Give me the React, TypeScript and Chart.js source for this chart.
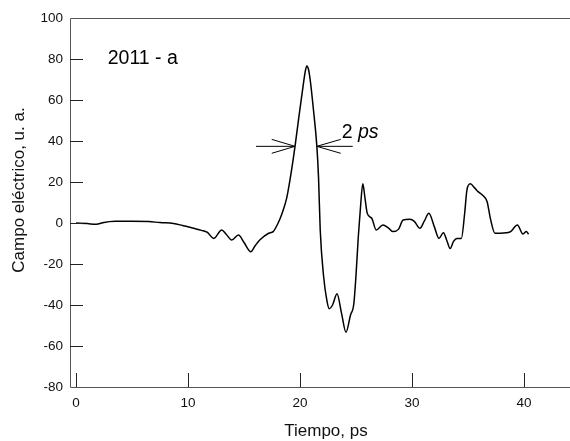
import React, { useEffect, useRef } from "react";
import { Chart, registerables } from "chart.js";

Chart.register(...registerables);

// Pulse trace: time (ps) and electric field (a.u.)
const timePs = [0, 1, 1.8, 2.5, 3.5, 5, 6.5, 7.5, 8.7, 9.5, 10.5, 11.2, 11.7, 12.3, 13.0, 13.4, 13.9, 14.5, 15.0, 15.6, 16.0, 16.4, 17.2, 17.6, 18.0, 18.4, 18.8, 19.1, 19.55, 19.9, 20.3, 20.45, 20.6, 20.75, 20.9, 21.2, 21.5, 21.65, 21.8, 22.1, 22.4, 22.6, 22.9, 23.3, 23.7, 24.1, 24.5, 24.8, 25.0, 25.2, 25.4, 25.6, 25.8, 26.0, 26.4, 26.8, 27.4, 27.9, 28.3, 28.8, 29.2, 29.8, 30.2, 30.7, 31.1, 31.5, 32.0, 32.4, 32.8, 33.1, 33.4, 33.7, 34.0, 34.4, 34.7, 34.9, 35.2, 35.6, 35.9, 36.3, 36.7, 37.0, 37.4, 37.9, 38.4, 38.8, 39.4, 39.9, 40.2, 40.4];
const field = [0, -0.3, -0.6, 0.3, 0.8, 0.9, 0.7, 0.2, -0.2, -1.2, -2.6, -3.6, -4.5, -7.5, -3.4, -5.5, -8.3, -5.9, -9.5, -14, -11, -8.3, -5, -4.2, -0.5, 4.8, 12, 21, 37.4, 52, 68, 73.5, 76.6, 75, 70, 55, 37.4, 22, -3.4, -26, -38, -41.8, -40, -34.5, -44, -53.3, -45, -39.4, -25, -6.7, 8, 19.1, 12, 4.7, 2.3, -3.4, -1, -2.5, -4.2, -3, 1.5, 1.8, 0.8, -2.6, 1, 4.8, -2, -7.5, -4.7, -8.5, -12.4, -9, -7.5, -7.5, 5, 16.2, 19.1, 17, 15.3, 13.5, 10.4, 2, -5, -5, -4.8, -4.2, -1, -5.4, -4.2, -5.5];

const xTickValues = [0, 10, 20, 30, 40];
const yTickValues = [-80, -60, -40, -20, 0, 20, 40, 60, 80, 100];

const xTitle = "Tiempo, ps";
const yTitle = "Campo eléctrico, u. a.";
const panelLabel = "2011 - a";
const widthLabelNum = "2 ";
const widthLabelUnit = "ps";

// FWHM arrows (data units)
const arrowY = 37.4;
const leftArrowX = [16.07, 19.55];
const rightArrowX = [21.49, 24.7];
const leftHeadBackX = 17.47;
const rightHeadBackX = 23.63;
const headHalf = 3.4;
const panelLabelPos = [2.83, 77.8];
const widthLabelPos = [23.72, 41.5];

const FONT = '"Liberation Sans", Arial, Helvetica, sans-serif';

const decor = {
  id: "decor",
  afterDraw(chart: any) {
    const { ctx, chartArea: a, scales } = chart;
    const xs = scales.x;
    const ys = scales.y;
    ctx.save();
    // frame
    ctx.lineWidth = 1;
    ctx.strokeStyle = "#555";
    ctx.beginPath();
    ctx.moveTo(a.left + 0.5, a.top + 0.5);
    ctx.lineTo(a.left + 0.5, a.bottom + 0.5);
    ctx.lineTo(a.right, a.bottom + 0.5);
    ctx.moveTo(a.left + 0.5, a.top + 0.5);
    ctx.lineTo(a.right, a.top + 0.5);
    ctx.stroke();
    // inward ticks
    ctx.strokeStyle = "#222";
    ctx.beginPath();
    yTickValues.forEach((v) => {
      if (v === yTickValues[0] || v === yTickValues[yTickValues.length - 1]) return;
      const py = Math.round(ys.getPixelForValue(v)) + 0.5;
      ctx.moveTo(a.left, py);
      ctx.lineTo(a.left + 13, py);
    });
    xTickValues.forEach((v) => {
      const px = Math.round(xs.getPixelForValue(v)) + 0.5;
      ctx.moveTo(px, a.bottom);
      ctx.lineTo(px, a.bottom - 14);
    });
    ctx.stroke();
    // FWHM arrows
    ctx.strokeStyle = "#000";
    ctx.lineWidth = 1;
    const yP = ys.getPixelForValue(arrowY);
    const hh = ys.getPixelForValue(arrowY - headHalf) - yP;
    ctx.beginPath();
    ctx.moveTo(xs.getPixelForValue(leftArrowX[0]), yP);
    ctx.lineTo(xs.getPixelForValue(leftArrowX[1]), yP);
    ctx.moveTo(xs.getPixelForValue(leftHeadBackX), yP - hh);
    ctx.lineTo(xs.getPixelForValue(leftArrowX[1]), yP);
    ctx.lineTo(xs.getPixelForValue(leftHeadBackX), yP + hh);
    ctx.moveTo(xs.getPixelForValue(rightArrowX[0]), yP);
    ctx.lineTo(xs.getPixelForValue(rightArrowX[1]), yP);
    ctx.moveTo(xs.getPixelForValue(rightHeadBackX), yP - hh);
    ctx.lineTo(xs.getPixelForValue(rightArrowX[0]), yP);
    ctx.lineTo(xs.getPixelForValue(rightHeadBackX), yP + hh);
    ctx.stroke();
    // texts
    ctx.fillStyle = "#000";
    ctx.textBaseline = "alphabetic";
    ctx.textAlign = "left";
    ctx.font = `19.5px ${FONT}`;
    ctx.fillText(panelLabel, xs.getPixelForValue(panelLabelPos[0]), ys.getPixelForValue(panelLabelPos[1]));
    const wx = xs.getPixelForValue(widthLabelPos[0]);
    const wy = ys.getPixelForValue(widthLabelPos[1]);
    ctx.fillText(widthLabelNum, wx, wy);
    const w0 = ctx.measureText(widthLabelNum).width;
    ctx.font = `italic 19.5px ${FONT}`;
    ctx.fillText(widthLabelUnit, wx + w0, wy);
    // axis titles
    ctx.font = `17px ${FONT}`;
    ctx.fillStyle = "#111";
    ctx.textAlign = "center";
    ctx.textBaseline = "middle";
    ctx.fillText(xTitle, a.left + 256, 431);
    ctx.save();
    ctx.translate(19, a.top + 172);
    ctx.rotate(-Math.PI / 2);
    ctx.fillText(yTitle, 0, 0);
    ctx.restore();
    ctx.restore();
  },
};

export default function App() {
  const ref = useRef<HTMLCanvasElement | null>(null);
  useEffect(() => {
    document.body.style.margin = "0";
    const canvas = ref.current;
    if (!canvas) return;
    const chart = new Chart(canvas, {
      type: "line",
      data: {
        datasets: [
          {
            data: timePs.map((t, i) => ({ x: t, y: field[i] })),
            borderColor: "#000",
            borderWidth: 1.5,
            pointRadius: 0,
            cubicInterpolationMode: "monotone",
            fill: false,
          },
        ],
      },
      options: {
        responsive: false,
        animation: false,
        devicePixelRatio: 1,
        layout: { padding: { top: 18, right: 0, left: 0, bottom: 0 } },
        plugins: { legend: { display: false }, tooltip: { enabled: false } },
        scales: {
          x: {
            type: "linear",
            min: -0.54,
            max: 44.1,
            grid: { display: false, drawTicks: false },
            border: { display: false },
            afterBuildTicks: (s: any) => {
              s.ticks = xTickValues.map((v) => ({ value: v }));
            },
            afterFit: (s: any) => {
              s.height = 54;
            },
            ticks: {
              padding: 8,
              maxRotation: 0,
              autoSkip: false,
              color: "#111",
              font: { family: FONT, size: 13.5 },
            },
          },
          y: {
            type: "linear",
            min: -80,
            max: 100,
            grid: { display: false, drawTicks: false },
            border: { display: false },
            afterBuildTicks: (s: any) => {
              s.ticks = yTickValues.map((v) => ({ value: v }));
            },
            afterFit: (s: any) => {
              s.width = 70;
            },
            ticks: {
              padding: 7,
              autoSkip: false,
              color: "#111",
              font: { family: FONT, size: 13.5 },
            },
          },
        },
      },
      plugins: [decor],
    });
    return () => chart.destroy();
  }, []);
  return (
    <div style={{ width: 570, height: 441, background: "#fff" }}>
      <canvas ref={ref} width={570} height={441} />
    </div>
  );
}
